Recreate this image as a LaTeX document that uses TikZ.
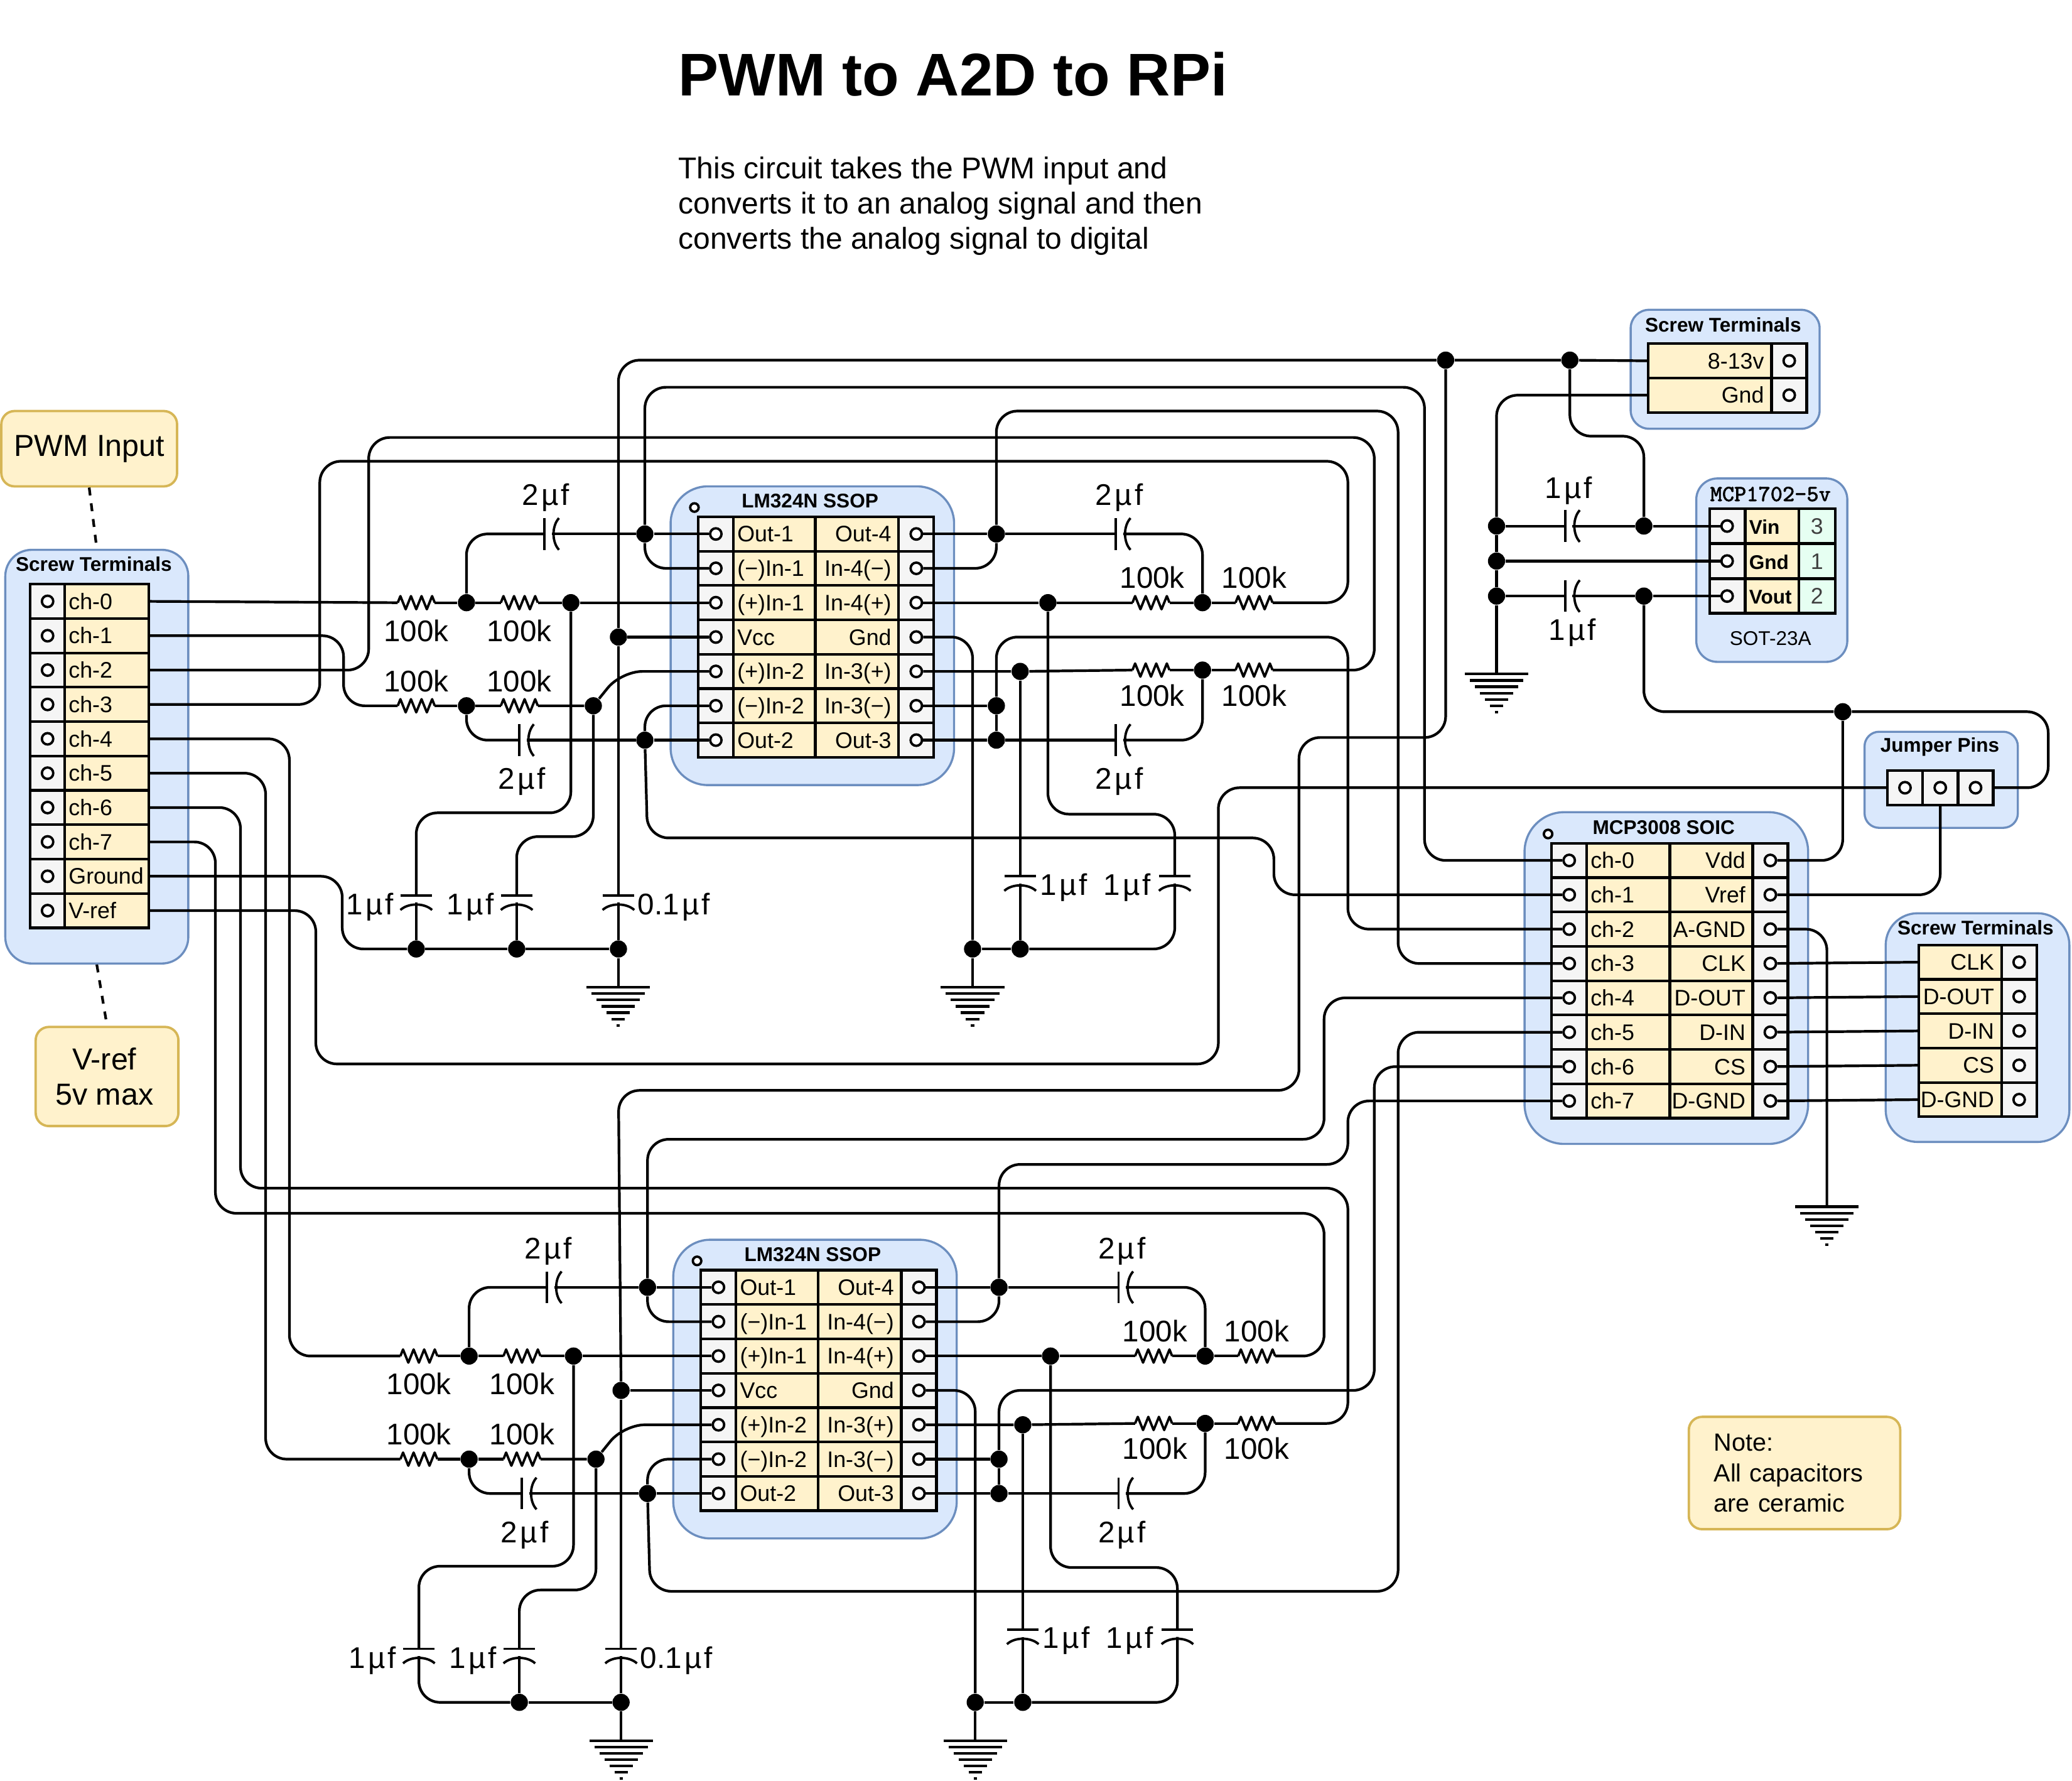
\documentclass[tikz,border=0pt]{standalone}
\usepackage{fontspec}
\usepackage{tikz}
\setmainfont{Liberation Sans}
\newfontfamily\regfont[FakeBold=1.6]{Latin Modern Mono}
\definecolor{pkgfill}{HTML}{DAE8FC}
\definecolor{pkgline}{HTML}{6C8EBF}
\definecolor{notefill}{HTML}{FFF2CC}
\definecolor{noteline}{HTML}{D6B656}
\definecolor{pinfill}{HTML}{F5F5F5}
\definecolor{numfill}{HTML}{E6FFF2}
\newcommand{\uF}{\kern1ptµ\kern1ptf}

\begin{document}
\begin{tikzpicture}[x=.5pt, y=-.5pt,
	pkg/.style={draw=pkgline, fill=pkgfill, line width=.8pt, inner sep=0pt, rounded corners=#1},
	note/.style={draw=noteline, fill=notefill, line width=.9pt, inner sep=0pt, rounded corners=5pt, align=center, font=\fontsize{11.5}{13.5}\selectfont},
	head/.style={font=\fontsize{7.5}{9}\selectfont\bfseries, inner sep=0pt},
	val/.style={font=\fontsize{11.3}{13}\selectfont, inner sep=0pt, text height=8.2pt, text depth=0pt},
	cell/.style={draw, line width=1pt, fill=notefill, inner sep=0pt, minimum height=13pt, text height=7pt, text depth=1pt, font=\fontsize{8.5}{10}\selectfont},
	labL/.style={cell, inner xsep=1.5pt, text width=#1, align=left},
	labR/.style={cell, inner xsep=.5pt, text width=#1, align=right, execute at end node={\hspace*{2.25pt}}},
	pincell/.style={cell, fill=pinfill, minimum width=13.3pt},
	hole/.style={circle, draw, fill=white, line width=.9pt, inner sep=0pt, minimum size=4.3pt},
	junc/.style={circle, fill=black, inner sep=0pt, minimum size=6.5pt},
	wire/.style={line width=1pt, rounded corners=8pt},
	part/.style={line width=.9pt, line join=round},
	res/.pic={
		\coordinate (-w) at (-14,0);
		\coordinate (-e) at (14,0);
		\draw[part] (-14,0) -- (-12,-5) -- (-8,5) -- (-4,-5) -- (0,5) -- (4,-5) -- (8,5) -- (12,-5) -- (14,0);
	},
	hcap/.pic={
		\coordinate (-w) at (-5.5,0);
		\coordinate (-e) at (0,0);
		\draw[part] (-5.5,-12) -- (-5.5,12);
		\draw[part] (5.5,-12) .. controls (0,-6) and (0,6) .. (5.5,12);
	},
	vcap/.pic={
		\coordinate (-n) at (0,-5.5);
		\coordinate (-s) at (0,0);
		\draw[part] (-12,-5.5) -- (12,-5.5);
		\draw[part] (-12,5.5) .. controls (-6,0) and (6,0) .. (12,5.5);
	},
	gnd/.pic={
		\coordinate (-top) at (0,0);
		\foreach \k in {0,...,6}
			\draw[line width=1pt] ({-24+3.8*\k},{4.8*\k}) -- ({24-3.8*\k},{4.8*\k});
	}]
	\useasboundingbox (0,0) rectangle (1568,1347.5);

	\node[anchor=west, inner sep=0pt, font=\fontsize{22.8}{26}\selectfont\bfseries] (title) at (513,56) {PWM to A2D to RPi};
	\node[anchor=west, inner sep=0pt, align=left, font=\fontsize{11.4}{13.25}\selectfont] (descr) at (513,156) {This circuit takes the PWM input and\\converts it to an analog signal and then\\converts the analog signal to digital};

	% notes
	\node[note, minimum width=66.5pt, minimum height=28.5pt] (pwmNote) at (67.5,339.5) {PWM Input};
	\node[note, minimum width=54pt, minimum height=37.5pt] (vrefNote) at (81,814.5) {V-ref\hspace*{2pt}\\5v max\hspace*{2pt}};
	\node[note, align=left, minimum height=42.5pt, text width=61pt, inner xsep=9.5pt, font=\fontsize{9.4}{11.5}\selectfont] (capNote) at (1358,1114.5) {Note:\\All capacitors\\are ceramic};

	% input terminals
	\node[pkg=10pt, minimum width=69.25pt, minimum height=156.5pt] (ltBox) at (73.25,572.5) {};
	\node[head] (ltHead) at (71,427) {Screw Terminals};
	\foreach \i/\t in {0/ch-0,1/ch-1,2/ch-2,3/ch-3,4/ch-4,5/ch-5,6/ch-6,7/ch-7,8/Ground,9/V-ref} {
		\node[pincell] (ltP\i) at (36,{455+26*\i}) {};
		\node[labL=28.75pt] (lt\i) at (80.75,{455+26*\i}) {\t};
		\node[hole] (ltH\i) at (36,{455+26*\i}) {};
	}
	\draw[dashed, line width=1pt] (pwmNote.south) -- (ltBox.north);
	\draw[dashed, line width=1pt] (ltBox.south) -- (vrefNote.north);

	% power terminals
	\node[pkg=7pt, minimum width=71.5pt, minimum height=45pt] (pwBox) at (1305.5,279.4) {};
	\node[head] (pwHead) at (1304,245.6) {Screw Terminals};
	\foreach \i/\t in {1/8-13v,2/Gnd} {
		\node[labR=45.5pt] (pw\i) at (1293.9,{247+26*\i}) {\t};
		\node[pincell] (pwP\i) at (1353.9,{247+26*\i}) {};
		\node[hole] (pwH\i) at (1354,{247+26*\i}) {};
	}

	% regulator
	\node[pkg=8pt, minimum width=57.15pt, minimum height=69.4pt] (regBox) at (1340.8,431.4) {};
	\node[inner sep=0pt, font=\regfont\fontsize{8.7}{10}\selectfont] (regHead) at (1339.8,373.8) {MCP1702-5v};
	\node[inner sep=0pt, font=\fontsize{7.5}{9}\selectfont] (regPkg) at (1339.8,483) {SOT-23A};
	\foreach \i/\t/\n in {1/Vin/3,2/Gnd/1,3/Vout/2} {
		\node[pincell] (regP\i) at (1307,{371.5+26.5*\i}) {};
		\node[labL=17.3pt, font=\fontsize{7.5}{9}\selectfont\bfseries] (regT\i) at (1341,{371.5+26.5*\i}) {\t};
		\node[cell, fill=numfill, minimum width=13.8pt, text=black!75] (regN\i) at (1375,{371.5+26.5*\i}) {\n};
		\node[hole] (regL\i) at (1307,{371.5+26.5*\i}) {};
	}

	% jumper
	\node[pkg=5.5pt, minimum width=58pt, minimum height=36.35pt] (jpBox) at (1469,590) {};
	\node[head] (jpHead) at (1468,565) {Jumper Pins};
	\foreach \i/\x in {1/1441.6,2/1468.3,3/1495} {
		\node[pincell] (jpP\i) at (\x,596) {};
		\node[hole] (jpH\i) at (\x,596) {};
	}

	% adc
	\node[pkg=15pt, minimum width=107.3pt, minimum height=125.5pt] (mcBox) at (1261,740) {};
	\node[head] (mcHead) at (1259,626) {MCP3008 SOIC};
	\node[hole, minimum size=3.2pt] (mcMark) at (1171.5,631) {};
	\foreach \i/\a/\b in {1/ch-0/Vdd,2/ch-1/Vref,3/ch-2/A-GND,4/ch-3/CLK,5/ch-4/D-OUT,6/ch-5/D-IN,7/ch-6/CS,8/ch-7/D-GND} {
		\node[pincell] (mcPL\i) at (1187.5,{625+26*\i}) {};
		\node[labL=28.5pt] (mcA\i) at (1232.2,{625+26*\i}) {\a};
		\node[labR=30.35pt] (mcB\i) at (1295,{625+26*\i}) {\b};
		\node[pincell] (mcPR\i) at (1339.7,{625+26*\i}) {};
		\node[hole] (mcL\i) at (1187.5,{625+26*\i}) {};
		\node[hole] (mcR\i) at (1339.7,{625+26*\i}) {};
	}

	% clock side terminals
	\node[pkg=12pt, minimum width=69.5pt, minimum height=86.5pt] (srBox) at (1496.5,777.5) {};
	\node[head] (srHead) at (1495,702) {Screw Terminals};
	\foreach \i/\t in {4/CLK,5/D-OUT,6/D-IN,7/CS,8/D-GND} {
		\node[labR=30.3pt] (sr\i) at (1483.3,{624+26*\i}) {\t};
		\node[pincell] (srP\i) at (1528,{624+26*\i}) {};
		\node[hole] (srH\i) at (1528,{624+26*\i}) {};
	}

	% the two op amp stages
	\foreach \p/\dx/\dy in {top/0/0,bot/2/570} {
		\begin{scope}[shift={(\dx,\dy)}]
			\node[pkg=14pt, minimum width=107.25pt, minimum height=113pt] (\p-box) at (614.75,481) {};
			\node[head] (\p-head) at (613,379) {LM324N SSOP};
			\node[hole, minimum size=3.2pt] (\p-mark) at (525.5,384) {};
			\foreach \i/\a/\b in {1/Out-1/Out-4,2/{(−)In-1}/{In-4(−)},3/{(+)In-1}/{In-4(+)},4/Vcc/Gnd,5/{(+)In-2}/{In-3(+)},6/{(−)In-2}/{In-3(−)},7/Out-2/Out-3} {
				\node[pincell] (\p-PL\i) at (541.7,{378+26*\i}) {};
				\node[labL=28pt] (\p-A\i) at (586,{378+26*\i}) {\a};
				\node[labR=30.5pt] (\p-B\i) at (648.5,{378+26*\i}) {\b};
				\node[pincell] (\p-PR\i) at (693.4,{378+26*\i}) {};
				\node[hole] (\p-L\i) at (541.7,{378+26*\i}) {};
				\node[hole] (\p-R\i) at (693.4,{378+26*\i}) {};
			}

			\node[junc] (\p-dOutA) at (488,404) {};
			\node[junc] (\p-dMidA) at (353,456) {};
			\node[junc] (\p-dInA) at (432,456) {};
			\node[junc] (\p-dVcc) at (468,482) {};
			\node[junc] (\p-dInB) at (449,534) {};
			\node[junc] (\p-dMidB) at (353,534) {};
			\node[junc] (\p-dOutB) at (488,560) {};
			\node[junc] (\p-dC1) at (391,718) {};
			\node[junc] (\p-dC2) at (468,718) {};
			\node[junc] (\p-dOutD) at (754,404) {};
			\node[junc] (\p-dInD) at (793,456) {};
			\node[junc] (\p-dMidD) at (910,456) {};
			\node[junc] (\p-dInC) at (772,508) {};
			\node[junc] (\p-dMidC) at (910,507) {};
			\node[junc] (\p-dNegC) at (754,534) {};
			\node[junc] (\p-dOutC) at (754,560) {};
			\node[junc] (\p-dGnd) at (736,718) {};
			\node[junc] (\p-dC3) at (772,718) {};

			\pic (\p-rA) at (315,456) {res};
			\pic (\p-rB) at (393,456) {res};
			\pic (\p-rC) at (315,534) {res};
			\pic (\p-rD) at (393,534) {res};
			\pic (\p-rE) at (871,456) {res};
			\pic (\p-rF) at (949,456) {res};
			\pic (\p-rG) at (871,507) {res};
			\pic (\p-rH) at (949,507) {res};
			\pic (\p-capA) at (417.5,404) {hcap};
			\pic (\p-capH) at (398.5,560) {hcap};
			\pic (\p-capJ) at (850,404) {hcap};
			\pic (\p-capM) at (850,560) {hcap};
			\pic (\p-capE) at (315,683) {vcap};
			\pic (\p-capF) at (391,683) {vcap};
			\pic (\p-capG) at (468,683) {vcap};
			\pic (\p-capL) at (772,668.5) {vcap};
			\pic (\p-capK) at (889,668.5) {vcap};
			\pic (\p-gA) at (468,747) {gnd};
			\pic (\p-gB) at (736,747) {gnd};

			\node[val] (\p-vA) at (413,374) {2\uF};
			\node[val] (\p-vB) at (395,589) {2\uF};
			\node[val] (\p-vC) at (847,374) {2\uF};
			\node[val] (\p-vD) at (847,589) {2\uF};
			\node[val] (\p-vE) at (315,477) {100k};
			\node[val] (\p-vF) at (393,477) {100k};
			\node[val] (\p-vG) at (315,515) {100k};
			\node[val] (\p-vH) at (393,515) {100k};
			\node[val] (\p-vI) at (872,437) {100k};
			\node[val] (\p-vJ) at (949,437) {100k};
			\node[val] (\p-vK) at (872,526) {100k};
			\node[val] (\p-vL) at (949,526) {100k};
			\node[val] (\p-vM) at (280,684) {1\uF};
			\node[val] (\p-vN) at (356,684) {1\uF};
			\node[val] (\p-vO) at (510,684) {0.1\uF};
			\node[val] (\p-vP) at (805,669) {1\uF};
			\node[val] (\p-vQ) at (853,669) {1\uF};

			% left half
			\draw[wire] (\p-L1) -- (\p-dOutA) -- (\p-capA-e);
			\draw[wire] (\p-dOutA) |- (\p-L2);
			\draw[wire] (\p-capA-w) -| (\p-dMidA);
			\draw[wire] (\p-rA-e) -- (\p-dMidA) -- (\p-rB-w);
			\draw[wire] (\p-rB-e) -- (\p-dInA) -- (\p-L3);
			\draw[wire] (\p-dInA) |- (315,615) -- (\p-capE-n);
			\draw[wire] (\p-L4) -- (\p-dVcc) -- (\p-capG-n);
			\draw[wire] (\p-capG-s) -- (\p-dC2) -- (\p-gA-top);
			\draw[wire] (\p-dC1) -- (\p-dC2);
			\draw[wire] (\p-dInB) |- (391,633) -- (\p-capF-n);
			\draw[wire] (\p-capF-s) -- (\p-dC1);
			\draw[wire] (\p-rC-e) -- (\p-dMidB) -- (\p-rD-w);
			\draw[wire] (\p-rD-e) -- (\p-dInB) -- (470,508) -- (\p-L5);
			\draw[wire] (\p-L6) -| (\p-dOutB);
			\draw[wire] (\p-L7) -- (\p-dOutB) -- (\p-capH-e);
			\draw[wire] (\p-capH-w) -| (\p-dMidB);
			% right half
			\draw[wire] (\p-R1) -- (\p-dOutD) -- (\p-capJ-w);
			\draw[wire] (\p-dOutD) |- (\p-R2);
			\draw[wire] (\p-capJ-e) -| (\p-dMidD);
			\draw[wire] (\p-R3) -- (\p-dInD) -- (\p-rE-w);
			\draw[wire] (\p-rE-e) -- (\p-dMidD) -- (\p-rF-w);
			\draw[wire] (\p-dInD) |- (889,616) -- (\p-capK-n);
			\draw[wire] (\p-capK-s) |- (\p-dC3);
			\draw[wire] (\p-R4) -| (\p-dGnd);
			\draw[wire] (\p-dGnd) -- (\p-gB-top);
			\draw[wire] (\p-dGnd) -- (\p-dC3);
			\draw[wire] (\p-R5) -- (\p-dInC) -- (\p-rG-w);
			\draw[wire] (\p-rG-e) -- (\p-dMidC) -- (\p-rH-w);
			\draw[wire] (\p-dInC) -- (\p-capL-n);
			\draw[wire] (\p-capL-s) -- (\p-dC3);
			\draw[wire] (\p-R6) -- (\p-dNegC) -- (\p-dOutC);
			\draw[wire] (\p-R7) -- (\p-dOutC) -- (\p-capM-w);
			\draw[wire] (\p-capM-e) -| (\p-dMidC);
		\end{scope}
	}

	\node[junc] (dGndIn) at (315,718) {};
	\node[junc] (dPwrA) at (1094,272.5) {};
	\node[junc] (dPwrB) at (1188,272.5) {};
	\node[junc] (dRegA) at (1132.5,398) {};
	\node[junc] (dRegB) at (1132.5,424.5) {};
	\node[junc] (dRegC) at (1132.5,451) {};
	\node[junc] (dVin) at (1244,398) {};
	\node[junc] (dVout) at (1244,451) {};
	\node[junc] (dTap) at (1394.5,538.5) {};
	\pic (capP) at (1190,398) {hcap};
	\pic (capQ) at (1190,451) {hcap};
	\pic (gReg) at (1132.5,510) {gnd};
	\pic (gAdc) at (1382.5,913) {gnd};
	\node[val] (vP) at (1187,369) {1\uF};
	\node[val] (vQ) at (1190,476) {1\uF};

	% inputs
	\draw[wire] (lt0.east) -- (top-rA-w);
	\draw[wire] (lt1.east) -| (260,534) -- (top-rC-w);
	\draw[wire] (lt2.east) -| (279,331) -| (1040,507) -- (top-rH-e);
	\draw[wire] (lt3.east) -| (242,349) -| (1020,456) -- (top-rF-e);
	\draw[wire] (lt4.east) -| (219,1026) -- (bot-rA-w);
	\draw[wire] (lt5.east) -| (201,1104) -- (bot-rC-w);
	\draw[wire] (lt6.east) -| (182,899) -| (1020,1077) -- (bot-rH-e);
	\draw[wire] (lt7.east) -| (163,918) -| (1002,1026) -- (bot-rF-e);
	\draw[wire] (lt8.east) -| (259,718) -- (dGndIn);
	\draw[wire] (lt9.east) -| (239,805) -| (922,596) -- (jpP1.west);
	\draw[wire] (top-capE-s) -- (dGndIn) -- (top-dC1);
	\draw[wire] (bot-capE-s) |- (bot-dC1);

	% op amp outputs to the adc
	\draw[wire] (top-dOutA) |- (1078,293) |- (mcL1);
	\draw[wire] (top-dOutB) -- (490,634) -| (964,677) -- (mcL2);
	\draw[wire] (top-dNegC) |- (1020,482) |- (mcL3);
	\draw[wire] (top-dOutD) |- (1058,311) |- (mcL4);
	\draw[wire] (bot-dOutA) |- (1002,862) |- (mcL5);
	\draw[wire] (bot-dOutB) -- (492,1204) -| (1058,781) -- (mcL6);
	\draw[wire] (bot-dNegC) |- (1040,1052) |- (mcL7);
	\draw[wire] (bot-dOutD) |- (1020,881) |- (mcL8);

	% power
	\draw[wire] (top-dVcc) |- (dPwrA) -- (dPwrB) -- (pw1.west);
	\draw[wire] (dPwrA) |- (983,558) |- (468,825) -- (bot-dVcc);
	\draw[wire] (pw2.west) -| (dRegA);
	\draw[wire] (dRegA) -- (dRegB) -- (dRegC) -- (gReg-top);
	\draw[wire] (dPwrB) |- (1244,330) -- (dVin);
	\draw[wire] (dRegA) -- (capP-w);
	\draw[wire] (capP-e) -- (dVin) -- (regL1);
	\draw[wire] (dRegB) -- (regL2);
	\draw[wire] (dRegC) -- (capQ-w);
	\draw[wire] (capQ-e) -- (dVout) -- (regL3);
	\draw[wire] (dVout) |- (dTap);
	\draw[wire] (jpP3.east) -| (1550,538.5) -- (dTap);
	\draw[wire] (dTap) |- (mcR1);
	\draw[wire] (jpP2.south) |- (mcR2);
	\draw[wire] (mcR3) -| (gAdc-top);

	% digital side
	\foreach \i in {4,...,8}
		\draw[wire] (mcR\i) -- (sr\i.west);
\end{tikzpicture}
\end{document}
